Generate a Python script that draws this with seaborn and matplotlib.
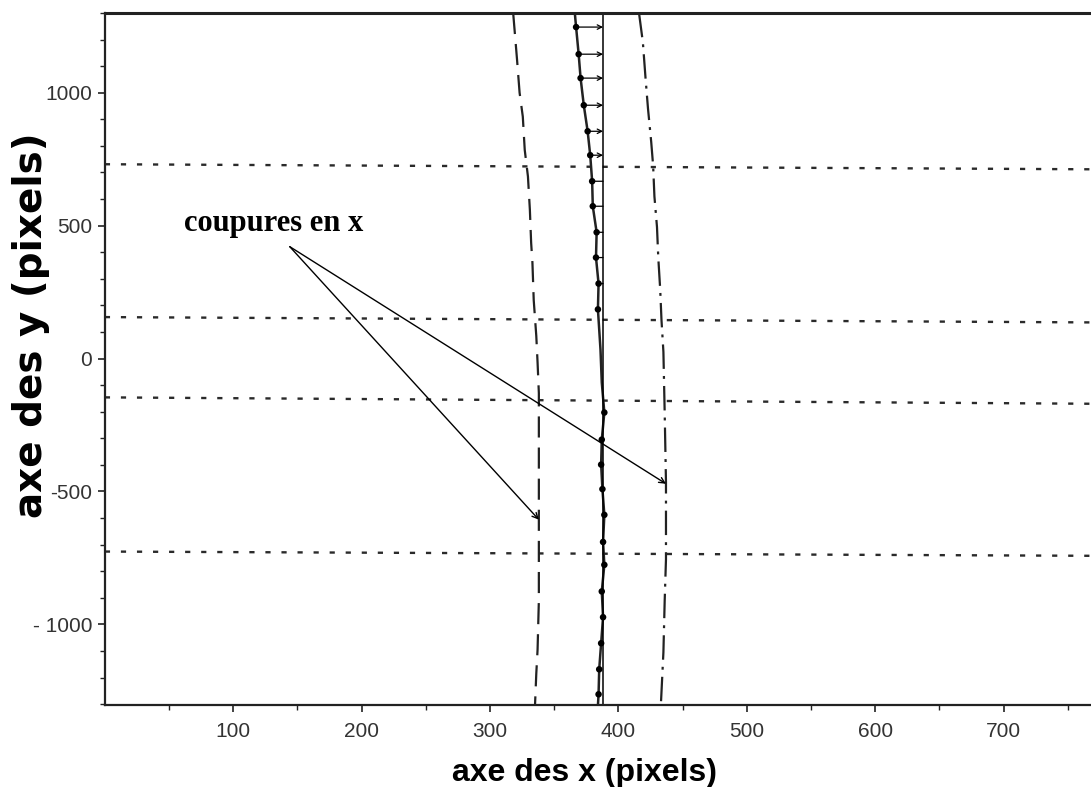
import matplotlib
matplotlib.use("Agg")
import matplotlib.pyplot as plt
import seaborn as sns
import pandas as pd

# ---------------- data ----------------
# dashed curve (left cut)
dash_y = [1300, 1125, 1000, 910, 785, 685, 560, 435, 360, 220, 85, -15, -130, -240, -470, -910, -1095, -1185, -1305]
dash_x = [318, 321, 323, 325.5, 327, 329.5, 331, 332, 333, 334, 336, 337, 338, 338, 338, 338, 337, 336, 335]

# dash-dot curve (right cut)
dd_y = [1300, 1190, 1060, 940, 815, 725, 610, 495, 380, 260, 145, 25, -90, -205, -465, -755, -910, -1105, -1305]
dd_x = [416, 419, 421, 423, 425.5, 427, 428, 430, 431, 432.5, 433.5, 435, 435.5, 436, 437, 437, 436, 435, 433]

# solid curve through the measured points
solid_y = [1300, 1247, 1145, 1055, 953, 855, 765, 667, 573, 475, 380, 282, 185, 34, -90, -203, -305, -399,
           -491, -588, -690, -776, -876, -973, -1071, -1169, -1263, -1305]
solid_x = [366, 367, 369, 370.5, 373, 376, 378, 379.5, 380, 383, 382.5, 384.5, 384, 386, 387, 389, 387, 386.5,
           387.5, 389, 388, 389, 387, 388, 386.5, 385, 384.5, 384]

# measured points (dots)
dot_y = [1247, 1145, 1055, 953, 855, 765, 667, 573, 475, 380, 282, 185,
         -203, -305, -399, -491, -588, -690, -776, -876, -973, -1071, -1169, -1263]
dot_x = [367, 369, 370.5, 373, 376, 378, 379.5, 380, 383, 382.5, 384.5, 384,
         389, 387, 386.5, 387.5, 389, 388, 389, 387, 388, 386.5, 385, 384.5]

# reference vertical line
ref_x = 388

# displacement vectors (upper part): start x, y ; arrowhead flags
vec_y = [1247, 1145, 1055, 953, 855, 765, 667, 573, 475, 380, 282]
vec_x = [367, 369, 370.5, 373, 376, 378, 379.5, 380, 383, 382.5, 384.5]
vec_head = [True, True, True, True, True, True, False, False, False, False, False]

# horizontal dotted cut lines (value at left and right edge)
cut_y_left = [731, 156, -146, -726]
cut_y_right = [712, 136, -170, -742]

# annotation
note_text = "coupures en x"
note_pos = (62, 479)
note_origin = (144, 421)
note_targets_x = [338, 437]
note_targets_y = [-606, -471]

x_ticks = [100, 200, 300, 400, 500, 600, 700]
y_ticks = [-1000, -500, 0, 500, 1000]
y_ticklabels = ["- 1000", "-500", "0", "500", "1000"]
x_label = "axe des x (pixels)"
y_label = "axe des y (pixels)"
x_lim = (0, 768)
y_lim = (-1305, 1300)

# ---------------- drawing ----------------
sns.set_theme(style="white")
plt.rcParams['font.family'] = ['Liberation Sans', 'DejaVu Sans']

fig = plt.figure(figsize=(10.91, 7.87), dpi=100)
ax = fig.add_axes([0.0961, 0.1036, 0.9039, 0.8799])

# dotted horizontal cut lines
for yl, yr in zip(cut_y_left, cut_y_right):
    dfc = pd.DataFrame({"x": [x_lim[0], x_lim[1]], "y": [yl, yr]})
    sns.lineplot(data=dfc, x="x", y="y", ax=ax, color="#2a2a2a", lw=1.7,
                 sort=False, estimator=None)
    ax.lines[-1].set_dashes([2.2, 4.6])

# dashed curve
dfd = pd.DataFrame({"x": dash_x, "y": dash_y})
sns.lineplot(data=dfd, x="x", y="y", ax=ax, color="#222222", lw=1.6, sort=False, estimator=None)
ax.lines[-1].set_dashes([9.5, 4.5])

# dash-dot curve
dfdd = pd.DataFrame({"x": dd_x, "y": dd_y})
sns.lineplot(data=dfdd, x="x", y="y", ax=ax, color="#222222", lw=1.6, sort=False, estimator=None)
ax.lines[-1].set_dashes([11.0, 3.2, 1.3, 3.2])

# solid curve
dfs = pd.DataFrame({"x": solid_x, "y": solid_y})
sns.lineplot(data=dfs, x="x", y="y", ax=ax, color="#222222", lw=1.8, sort=False, estimator=None)

# reference line
ax.axvline(ref_x, color="black", lw=1.1)

# dots
dfp = pd.DataFrame({"x": dot_x, "y": dot_y})
sns.scatterplot(data=dfp, x="x", y="y", ax=ax, color="black", s=22, edgecolor="none", zorder=5)

# displacement vectors
for vx, vy, head in zip(vec_x, vec_y, vec_head):
    ax.annotate("", xy=(ref_x, vy), xytext=(vx, vy),
                arrowprops=dict(arrowstyle="->" if head else "-", color="black", lw=0.9,
                                shrinkA=0, shrinkB=0, mutation_scale=8))

# annotation
ax.text(note_pos[0], note_pos[1], note_text, family="Liberation Serif", fontweight="bold",
        fontsize=22, color="black", ha="left", va="baseline")
for tx, ty in zip(note_targets_x, note_targets_y):
    ax.annotate("", xy=(tx, ty), xytext=note_origin,
                arrowprops=dict(arrowstyle="->", color="black", lw=1.0,
                                shrinkA=0, shrinkB=0, mutation_scale=10))

# axes
ax.set_xlim(*x_lim)
ax.set_ylim(*y_lim)
ax.set_xticks(x_ticks)
ax.set_xticks(range(50, 768, 100), minor=True)
ax.set_yticks(y_ticks)
ax.set_yticklabels(y_ticklabels)
ax.set_yticks([v for v in range(-1300, 1301, 100) if v not in y_ticks], minor=True)
ax.set_xlabel("")
ax.set_ylabel("")
ax.tick_params(axis="both", which="major", direction="out", length=5, width=1.2,
               color="#222222", labelsize=15, labelcolor="#333333", pad=4)
ax.tick_params(axis="both", which="minor", direction="out", length=3.5, width=1.0, color="#222222")
ax.tick_params(axis="x", which="major", pad=7)
ax.tick_params(left=True, bottom=True, which="both")
for side in ["left", "bottom", "top"]:
    ax.spines[side].set_color("#222222")
    ax.spines[side].set_linewidth(1.6)
ax.spines["top"].set_linewidth(2.2)
ax.spines["right"].set_visible(False)
ax.grid(False)

fig.text(584 / 1091, 1 - 773 / 787, x_label, fontsize=23, fontweight="bold",
         family="Liberation Sans", ha="center", va="center", color="black")
fig.text(31 / 1091, 1 - 325 / 787, y_label, fontsize=28, fontweight="bold",
         family="DejaVu Sans", ha="center", va="center", rotation=90, color="black")

fig.savefig("out.png", dpi=100)
